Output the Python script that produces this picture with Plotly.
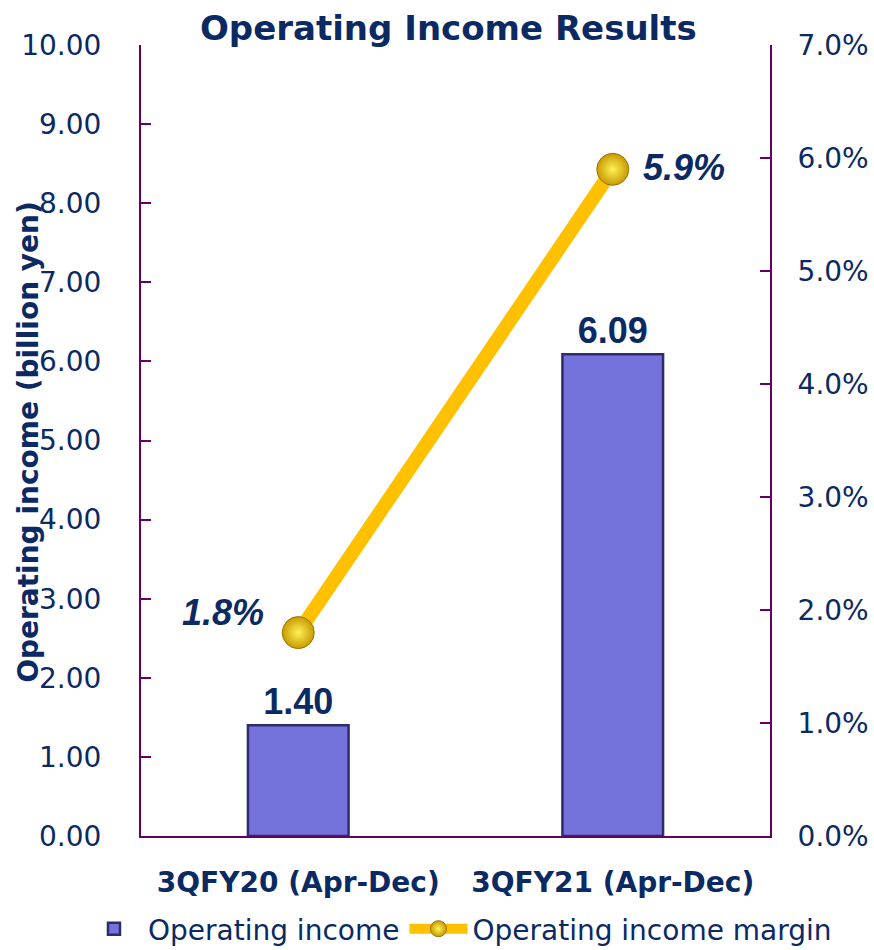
import plotly.graph_objects as go

categories = ["3QFY20 (Apr-Dec)", "3QFY21 (Apr-Dec)"]
income = [1.40, 6.09]
margin_pct = [1.8, 5.9]
income_labels = ["1.40", "6.09"]
margin_labels = ["1.8%", "5.9%"]
left_ticks = [0, 1, 2, 3, 4, 5, 6, 7, 8, 9, 10]
right_ticks = [0, 1, 2, 3, 4, 5, 6, 7]

NAVY = "#0B2A63"
AXIS = "#660066"
NARROW = "Liberation Sans Narrow, Arial Narrow, Liberation Sans, sans-serif"

fig = go.Figure()
fig.add_trace(go.Bar(
    x=categories, y=income, name="Operating income",
    marker=dict(color="#7472DB", line=dict(color="#2E2C6A", width=2.5)),
    text=income_labels, texttemplate="<b>%{text}</b>", textposition="outside", cliponaxis=False,
    textfont=dict(family=NARROW, size=36, color=NAVY),
    width=0.32,
))
fig.add_trace(go.Scatter(
    x=categories, y=margin_pct, name="Operating income margin", yaxis="y2",
    mode="lines+markers",
    line=dict(color="#FFC000", width=14),
    marker=dict(size=32, color="#C99A00", line=dict(color="#9A7400", width=1),
                gradient=dict(type="radial", color="#FFF25A")),
    cliponaxis=False,
))
anchors = [("right", -32, 20), ("left", 28, 2)]
for c, v, t, (xa, dx, dy) in zip(categories, margin_pct, margin_labels, anchors):
    fig.add_annotation(x=c, y=v, yref="y2", text="<b><i>" + t + "</i></b>", showarrow=False,
                       xanchor=xa, xshift=dx, yshift=dy,
                       font=dict(family=NARROW, size=36, color=NAVY))

fig.add_annotation(xref="paper", yref="paper", x=-0.18, y=0.498, text="<b>Operating income (billion yen)</b>",
                   textangle=-90, showarrow=False, xanchor="center", yanchor="middle",
                   font=dict(family="DejaVu Sans", size=28, color=NAVY))

fig.update_layout(
    width=874, height=950,
    margin=dict(l=141, r=104, t=45, b=114, autoexpand=False),
    plot_bgcolor="white", paper_bgcolor="white",
    font=dict(family="DejaVu Sans", color=NAVY),
    title=dict(text="<b>Operating Income Results</b>", x=0.513, xanchor="center", y=0.97, yanchor="middle",
               font=dict(family="DejaVu Sans", size=34, color=NAVY)),
    xaxis=dict(showline=True, linecolor=AXIS, linewidth=2, ticks="", showgrid=False, automargin=False,
               tickfont=dict(family="DejaVu Sans", size=28, color=NAVY),
               ticktext=["<b>" + c + "</b>" for c in categories], tickvals=categories,
               ticklabelstandoff=20),
    yaxis=dict(range=[0, 10], tickvals=left_ticks, tickformat=".2f", showline=True, linecolor=AXIS, linewidth=2,
               ticks="inside", ticklen=10, tickcolor=AXIS, tickwidth=2, showgrid=False, zeroline=False,
               automargin=False,
               tickfont=dict(family="DejaVu Sans", size=28, color=NAVY), ticklabelstandoff=32),
    yaxis2=dict(range=[0, 7], tickvals=right_ticks, ticktext=[f"{v:.1f}%" for v in right_ticks],
                overlaying="y", side="right", showline=True, linecolor=AXIS, linewidth=2,
                ticks="inside", ticklen=10, tickcolor=AXIS, tickwidth=2, showgrid=False, zeroline=False,
                automargin=False,
                tickfont=dict(family="DejaVu Sans", size=28, color=NAVY), ticklabelstandoff=20),
    bargap=0.68,
    showlegend=True,
    legend=dict(orientation="h", x=-0.097, xanchor="left",
                y=-0.086, yanchor="top", itemwidth=58, tracegroupgap=0,
                font=dict(family="DejaVu Sans", size=28, color=NAVY),
                bgcolor="rgba(0,0,0,0)"),
)
fig.write_html("out.html")
